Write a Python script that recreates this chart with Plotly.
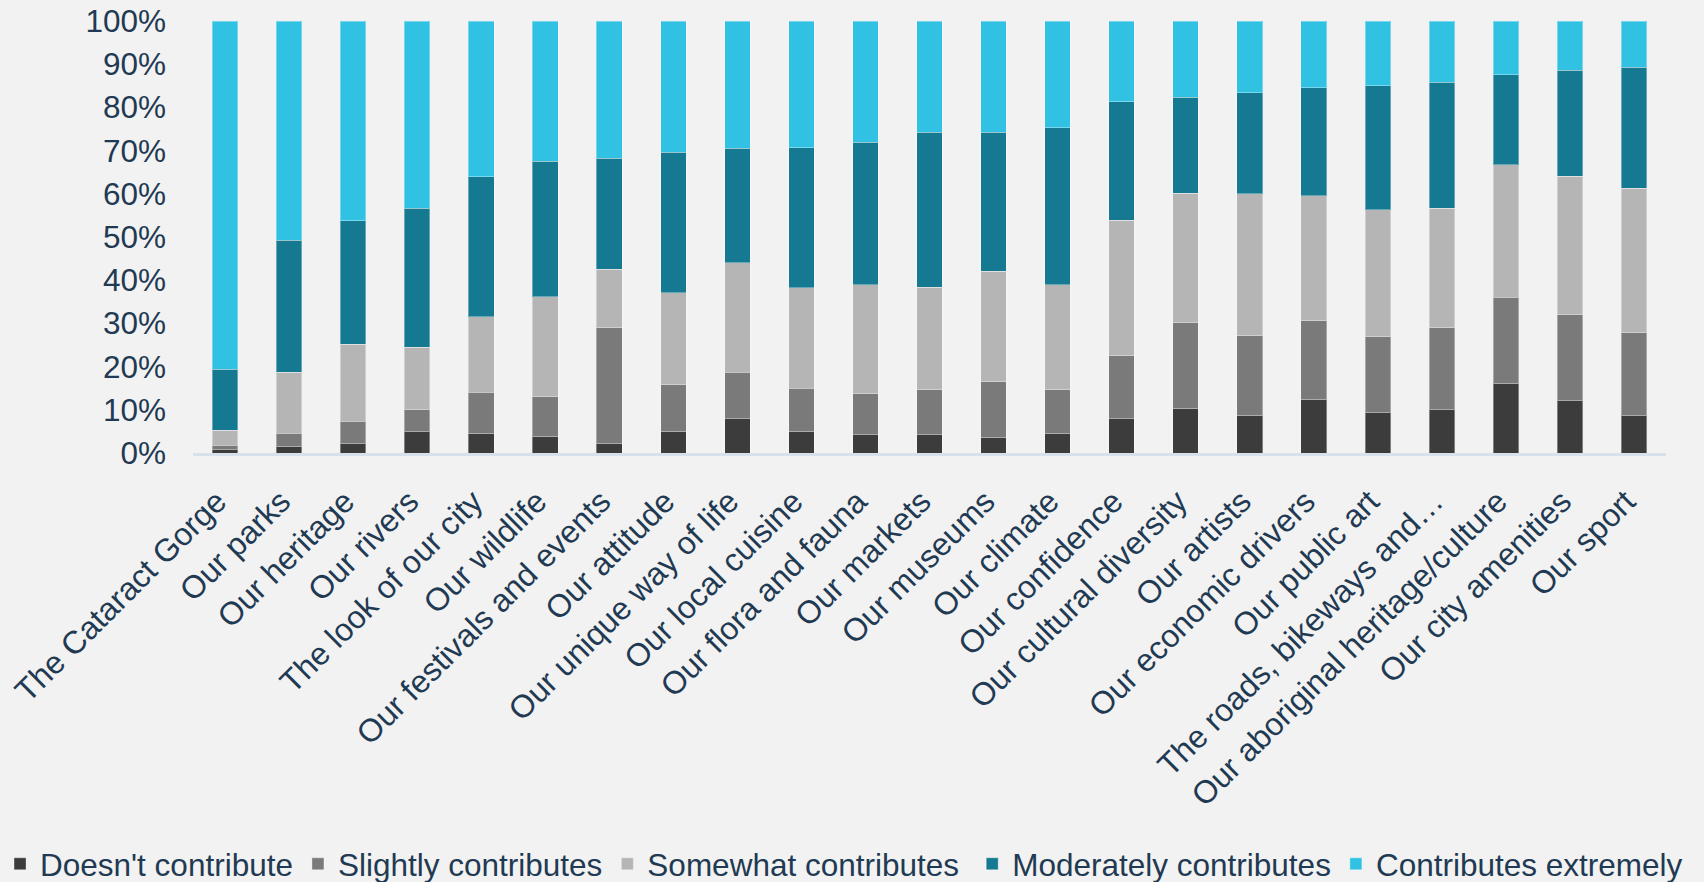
import plotly.graph_objects as go

# Survey items, in display order
categories = [
    "The Cataract Gorge", "Our parks", "Our heritage", "Our rivers",
    "The look of our city", "Our wildlife", "Our festivals and events",
    "Our attitude", "Our unique way of life", "Our local cuisine",
    "Our flora and fauna", "Our markets", "Our museums", "Our climate",
    "Our confidence", "Our cultural diversity", "Our artists",
    "Our economic drivers", "Our public art", "The roads, bikeways and\u2026",
    "Our aboriginal heritage/culture", "Our city amenities", "Our sport",
]

# Share of responses (%) per rating level
doesnt_contribute = [0.7, 1.6, 2.1, 4.9, 4.6, 3.9, 2.1, 5.0, 7.9, 5.0, 4.2, 4.2,
                     3.7, 4.6, 7.9, 10.4, 8.7, 12.5, 9.3, 10.0, 16.2, 12.1, 8.6]
slightly_contributes = [1.1, 3.0, 5.2, 5.1, 9.5, 9.1, 26.9, 10.8, 10.8, 10.0, 9.5, 10.4,
                        12.8, 10.0, 14.6, 19.7, 18.4, 18.1, 17.6, 19.0, 19.8, 19.9, 19.2]
somewhat_contributes = [3.5, 14.1, 17.9, 14.5, 17.4, 23.2, 13.5, 21.3, 25.3, 23.3, 25.2, 23.8,
                        25.6, 24.3, 31.4, 30.0, 32.9, 28.9, 29.4, 27.6, 30.7, 32.1, 33.5]
moderately_contributes = [14.1, 30.5, 28.6, 32.1, 32.5, 31.3, 25.7, 32.5, 26.6, 32.4, 33.0, 35.9,
                          32.2, 36.4, 27.4, 22.2, 23.4, 25.0, 28.7, 29.2, 20.9, 24.5, 28.0]
contributes_extremely = [80.6, 50.8, 46.2, 43.4, 36.0, 32.5, 31.8, 30.4, 29.4, 29.3, 28.1, 25.7,
                         25.7, 24.7, 18.7, 17.7, 16.6, 15.5, 15.0, 14.2, 12.4, 11.4, 10.7]

# (name, values, colour, legend group box)
series = [
    ("Doesn't contribute", doesnt_contribute, "#3c3c3c", "legend"),
    ("Slightly contributes", slightly_contributes, "#7a7a7a", "legend"),
    ("Somewhat contributes", somewhat_contributes, "#b5b5b5", "legend"),
    ("Moderately contributes", moderately_contributes, "#157a91", "legend2"),
    ("Contributes extremely", contributes_extremely, "#31c1e3", "legend2"),
]

TEXT = "#1f3a52"
FONT = "Liberation Sans, Arial, sans-serif"

fig = go.Figure()
for name, vals, color, leg in series:
    fig.add_trace(go.Bar(
        x=categories, y=vals, name=name, legend=leg,
        marker=dict(color=color, line=dict(color="rgba(255,255,255,0.35)", width=1)),
    ))

# The key row is split over two legend boxes so it stays on one line
legend_style = dict(
    orientation="h", yanchor="middle", xanchor="left",
    font=dict(size=31.5, color=TEXT),
    traceorder="normal", itemclick=False,
    bgcolor="rgba(0,0,0,0)",
)

fig.update_layout(
    barmode="stack",
    bargap=0.6,
    width=1704, height=882, autosize=False,
    margin=dict(l=193, r=38, t=21, b=429, autoexpand=False),
    paper_bgcolor="#f2f2f2",
    plot_bgcolor="#f2f2f2",
    font=dict(family=FONT, size=31, color=TEXT),
    legend=dict(x=-0.131, y=-0.951, **legend_style),
    legend2=dict(x=0.529, y=-0.951, **legend_style),
    showlegend=True,
)

fig.update_xaxes(
    tickangle=-45,
    automargin=False,
    showline=True, linecolor="#d6e1ec", linewidth=3,
    showgrid=False, ticks="",
    ticklabelstandoff=14, ticklabelshift=-8,
    tickfont=dict(size=32, color=TEXT),
)
fig.update_yaxes(
    range=[0, 100], dtick=10, ticksuffix="%",
    automargin=False,
    showline=False, showgrid=False, zeroline=False, ticks="",
    ticklabelstandoff=26,
    tickfont=dict(size=31.5, color=TEXT),
)

fig.write_html("out.html")
